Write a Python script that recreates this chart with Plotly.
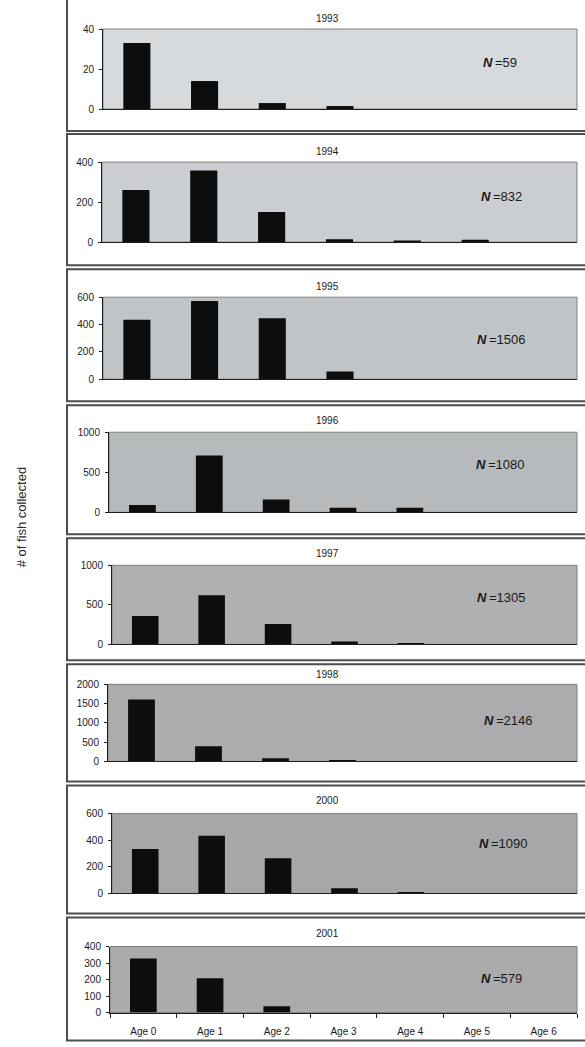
import plotly.graph_objects as go

# ---- data -------------------------------------------------------------
ages = ["Age 0", "Age 1", "Age 2", "Age 3", "Age 4", "Age 5", "Age 6"]
years = ["1993", "1994", "1995", "1996", "1997", "1998", "2000", "2001"]
n_totals = [59, 832, 1506, 1080, 1305, 2146, 1090, 579]

counts_1993 = [33, 14, 3, 1.5, 0, 0, 0]
counts_1994 = [260, 358, 150, 15, 8, 12, 0]
counts_1995 = [435, 572, 445, 56, 0, 0, 0]
counts_1996 = [90, 708, 160, 58, 58, 0, 0]
counts_1997 = [360, 620, 258, 35, 18, 0, 0]
counts_1998 = [1610, 395, 80, 35, 0, 0, 0]
counts_2000 = [333, 432, 265, 40, 12, 0, 0]
counts_2001 = [328, 208, 38, 0, 0, 0, 0]
counts = [counts_1993, counts_1994, counts_1995, counts_1996,
          counts_1997, counts_1998, counts_2000, counts_2001]

y_max = [40, 400, 600, 1000, 1000, 2000, 600, 400]
y_step = [20, 200, 200, 500, 500, 500, 200, 100]

# ---- geometry (pixels) ------------------------------------------------
W, H = 585, 1047
plot_lefts = [103, 102, 103, 109, 112, 108, 112, 110]
plot_right = 577
plot_tops = [29, 162, 297, 432, 565, 684, 813, 946]
plot_bottoms = [109, 242, 379, 512, 644, 761, 893, 1012]
title_y = [18, 151, 286, 420, 553, 674, 800, 933]
n_pos = [(500, 62), (501, 196), (501, 339), (500, 464),
         (502, 597), (508, 720), (503, 843), (501, 978)]
frame_tops = [-30, 134, 269, 405, 538, 664, 785, 917]
frame_bottoms = [131, 265, 401, 534, 660, 781, 913, 1040]
panel_bg = ["#d6dadd", "#caced2", "#c0c4c7", "#b7babd",
            "#aeb0b2", "#aaacad", "#a5a7a8", "#a9abac"]

FONT = "Liberation Sans, Arial, sans-serif"

# row mapping used for every vertical placement
Y_OFFSET, Y_SCALE = 6.0, 0.988


def px(x):
    return x / W


def py(y):
    return 1 - ((y - Y_OFFSET) / Y_SCALE) / H


fig = go.Figure()
shapes = []
annotations = []
layout = {}

for i in range(8):
    k = "" if i == 0 else str(i + 1)
    last = i == 7
    fig.add_trace(go.Bar(
        x=ages, y=counts[i], xaxis="x" + k, yaxis="y" + k,
        width=0.4, marker=dict(color="#0d0d0d", line=dict(width=0)),
        showlegend=False, hoverinfo="x+y",
    ))
    layout["xaxis" + k] = dict(
        domain=[px(plot_lefts[i]), px(plot_right)], anchor="y" + k,
        type="category", range=[-0.5, 6.5],
        showline=True, linecolor="#1e1e1e", linewidth=1,
        showgrid=False, zeroline=False, fixedrange=True,
        showticklabels=last, ticks="outside" if last else "",
        tickson="boundaries", ticklen=4, tickcolor="#1e1e1e",
        ticklabelstandoff=9,
        tickfont=dict(family=FONT, size=10, color="#1a1a1a"),
    )
    layout["yaxis" + k] = dict(
        domain=[py(plot_bottoms[i]), py(plot_tops[i])], anchor="x" + k,
        range=[0, y_max[i]], dtick=y_step[i], tick0=0,
        showline=True, linecolor="#1e1e1e", linewidth=1,
        showgrid=False, zeroline=False, fixedrange=True,
        ticks="outside", ticklen=3, tickcolor="#1e1e1e",
        ticklabelstandoff=3,
        tickfont=dict(family=FONT, size=10, color="#1a1a1a"),
    )
    # panel frame
    shapes.append(dict(type="rect", xref="paper", yref="paper",
                       x0=px(67), x1=px(600), y0=py(frame_bottoms[i]), y1=py(frame_tops[i]),
                       line=dict(color="#4d4d4d", width=2), fillcolor="white", layer="below"))
    # plot area
    shapes.append(dict(type="rect", xref="x" + k + " domain", yref="y" + k + " domain",
                       x0=0, x1=1, y0=0, y1=1,
                       line=dict(color="#808080", width=1), fillcolor=panel_bg[i], layer="below"))
    annotations.append(dict(text=years[i], xref="paper", yref="paper",
                            x=px(327), y=py(title_y[i]), xanchor="center", yanchor="middle",
                            showarrow=False,
                            font=dict(family=FONT, size=10, color="#1a1a1a")))
    annotations.append(dict(text="<b><i>N</i></b>\u2009=" + str(n_totals[i]), xref="paper", yref="paper",
                            x=px(n_pos[i][0]), y=py(n_pos[i][1]), xanchor="center", yanchor="middle",
                            showarrow=False,
                            font=dict(family=FONT, size=13, color="#1a1a1a")))

annotations.append(dict(text="# of fish collected", xref="paper", yref="paper",
                        x=px(21), y=py(517), xanchor="center", yanchor="middle",
                        textangle=-90, showarrow=False,
                        font=dict(family=FONT, size=13, color="#2a2a2a")))

fig.update_layout(
    width=W, height=H, margin=dict(l=0, r=0, t=0, b=0),
    paper_bgcolor="white", plot_bgcolor="rgba(0,0,0,0)",
    shapes=shapes, annotations=annotations, bargap=0.6,
    **layout,
)

fig.write_html("out.html")
